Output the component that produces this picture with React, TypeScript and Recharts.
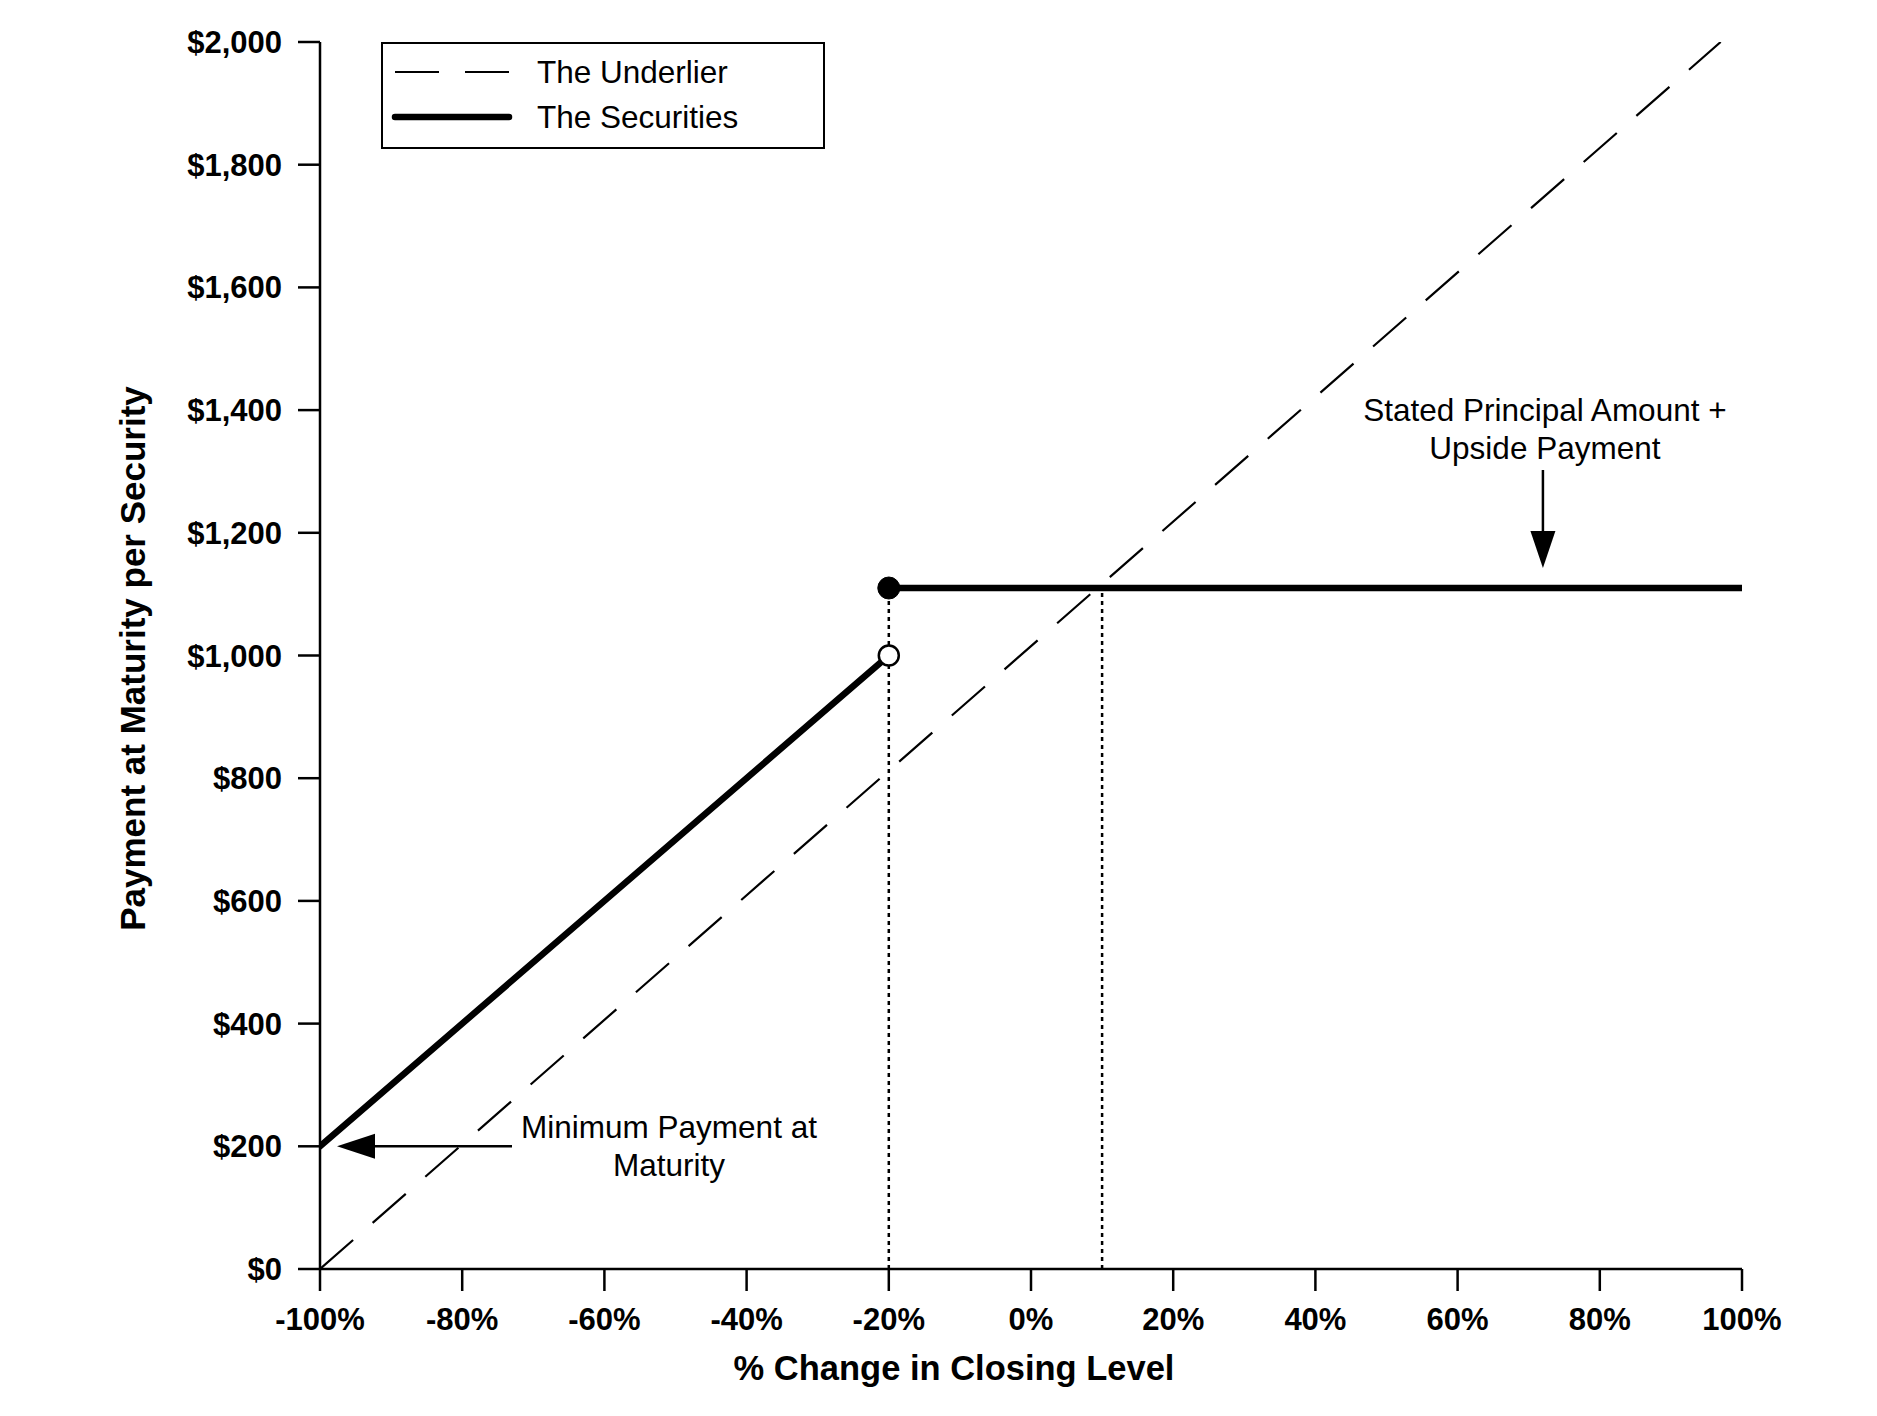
import {
  ComposedChart,
  Line,
  Scatter,
  XAxis,
  YAxis,
  Legend,
  ReferenceLine,
  ReferenceDot,
} from "recharts"

const FONT = "'Liberation Sans', Arial, Helvetica, sans-serif"

// axis ticks
const X_TICKS = [-100, -80, -60, -40, -20, 0, 20, 40, 60, 80, 100]
const Y_TICKS = [0, 200, 400, 600, 800, 1000, 1200, 1400, 1600, 1800, 2000]

// payoff values
const STEP_X = -20
const BREAKEVEN_X = 10
const PRINCIPAL = 1000
const UPSIDE_PAYMENT = 1110
const MIN_PAYMENT = 200

const UNDERLIER = [
  { x: -100, y: 0 },
  { x: 97, y: 2000 },
]
const SECURITIES_LOW = [
  { x: -100, y: MIN_PAYMENT },
  { x: STEP_X, y: PRINCIPAL },
]
const SECURITIES_HIGH = [
  { x: STEP_X, y: UPSIDE_PAYMENT },
  { x: 100, y: UPSIDE_PAYMENT },
]

const LEGEND_ORDER = ["The Underlier", "The Securities"]

// annotation anchors
const UPSIDE_NOTE = [{ x: 72, y: UPSIDE_PAYMENT }]
const UPSIDE_LINES = ["Stated Principal Amount +", "Upside Payment"]
const MIN_NOTE = [{ x: -100, y: MIN_PAYMENT }]
const MIN_LINES = ["Minimum Payment at", "Maturity"]

const fmtMoney = (v: number) =>
  "$" + String(v).replace(/\B(?=(\d{3})+(?!\d))/g, ",")

const noteText = {
  fontFamily: FONT,
  fontSize: 31.5,
  fill: "#000",
  textAnchor: "middle" as const,
}

function UpsideArrow(props: any) {
  const { cx, cy } = props
  const tip = cy - 20
  return (
    <g>
      <line x1={cx} y1={cy - 118} x2={cx} y2={tip - 30} stroke="#000" strokeWidth={2.5} />
      <polygon points={`${cx - 12.5},${tip - 37} ${cx + 12.5},${tip - 37} ${cx},${tip}`} fill="#000" />
      <text x={cx + 2} y={cy - 167} {...noteText}>{UPSIDE_LINES[0]}</text>
      <text x={cx + 2} y={cy - 129} {...noteText}>{UPSIDE_LINES[1]}</text>
    </g>
  )
}

function MinArrow(props: any) {
  const { cx, cy } = props
  const tip = cx + 17
  return (
    <g>
      <line x1={tip + 30} y1={cy} x2={cx + 192} y2={cy} stroke="#000" strokeWidth={2.5} />
      <polygon points={`${tip},${cy} ${tip + 38},${cy - 12.5} ${tip + 38},${cy + 12.5}`} fill="#000" />
      <text x={cx + 349} y={cy - 8} {...noteText}>{MIN_LINES[0]}</text>
      <text x={cx + 349} y={cy + 30} {...noteText}>{MIN_LINES[1]}</text>
    </g>
  )
}

function LegendBox({ payload }: any) {
  const items = (payload || [])
    .filter((p: any) => p.type !== "none")
    .sort((a: any, b: any) => LEGEND_ORDER.indexOf(a.value) - LEGEND_ORDER.indexOf(b.value))
  return (
    <svg width={444} height={107} style={{ display: "block" }}>
      <rect x={1} y={1} width={442} height={105} fill="#fff" stroke="#000" strokeWidth={2} />
      {items.map((item: any, i: number) => {
        const y = 30 + i * 45
        const p = item.payload || {}
        return (
          <g key={item.value}>
            <line
              x1={14}
              y1={y}
              x2={128}
              y2={y}
              stroke="#000"
              strokeWidth={p.strokeWidth || 2}
              strokeDasharray={p.strokeDasharray}
              strokeLinecap={p.strokeDasharray ? "butt" : "round"}
            />
            <text x={156} y={y + 11} fontFamily={FONT} fontSize={31.5} fill="#000">
              {item.value}
            </text>
          </g>
        )
      })}
    </svg>
  )
}

export default function App() {
  const tickStyle = { fontSize: 31, fontWeight: 700, fill: "#000", fontFamily: FONT }
  const axisLine = { stroke: "#000", strokeWidth: 2.5 }

  return (
    <ComposedChart
      width={1869}
      height={1400}
      margin={{ top: 34, right: 135, bottom: 79, left: 112 }}
      style={{ fontFamily: FONT }}
    >
      <XAxis
        type="number"
        dataKey="x"
        domain={[-100, 100]}
        ticks={X_TICKS}
        tickFormatter={(v) => `${v}%`}
        tick={tickStyle}
        tickSize={22}
        tickMargin={17}
        axisLine={axisLine}
        tickLine={axisLine}
        height={60}
        allowDataOverflow
        label={{
          content: ({ viewBox }: any) => (
            <text
              x={viewBox.x + 634}
              y={viewBox.y + 111}
              textAnchor="middle"
              fontFamily={FONT}
              fontSize={34.5}
              fontWeight={700}
              fill="#000"
            >
              % Change in Closing Level
            </text>
          ),
        }}
      />
      <YAxis
        type="number"
        dataKey="y"
        domain={[0, 2000]}
        ticks={Y_TICKS}
        tickFormatter={fmtMoney}
        tick={tickStyle}
        tickSize={22}
        tickMargin={16}
        axisLine={axisLine}
        tickLine={axisLine}
        width={200}
        allowDataOverflow
        label={{
          content: ({ viewBox }: any) => {
            const x = viewBox.x + 12
            const y = viewBox.y + viewBox.height / 2 + 3
            return (
              <text
                x={x}
                y={y}
                transform={`rotate(-90 ${x} ${y})`}
                textAnchor="middle"
                dominantBaseline="central"
                fontFamily={FONT}
                fontSize={35}
                fontWeight={700}
                fill="#000"
              >
                Payment at Maturity per Security
              </text>
            )
          },
        }}
      />
      <Legend
        layout="horizontal"
        verticalAlign="middle"
        align="center"
        wrapperStyle={{ left: 373, top: 34, width: 444, height: 107 }}
        content={<LegendBox />}
      />
      <ReferenceLine
        segment={[
          { x: STEP_X, y: 0 },
          { x: STEP_X, y: UPSIDE_PAYMENT },
        ]}
        stroke="#000"
        strokeWidth={2.5}
        strokeDasharray="4 4"
      />
      <ReferenceLine
        segment={[
          { x: BREAKEVEN_X, y: 0 },
          { x: BREAKEVEN_X, y: UPSIDE_PAYMENT },
        ]}
        stroke="#000"
        strokeWidth={2.5}
        strokeDasharray="4 4"
      />
      <Line
        name="The Underlier"
        data={UNDERLIER}
        dataKey="y"
        type="linear"
        stroke="#000"
        strokeWidth={2.2}
        strokeDasharray="44 26"
        dot={false}
        activeDot={false}
        isAnimationActive={false}
      />
      <Line
        name="The Securities"
        data={SECURITIES_LOW}
        dataKey="y"
        type="linear"
        stroke="#000"
        strokeWidth={6.5}
        strokeLinecap="round"
        dot={false}
        activeDot={false}
        isAnimationActive={false}
      />
      <Line
        name="The Securities (upside)"
        data={SECURITIES_HIGH}
        dataKey="y"
        type="linear"
        stroke="#000"
        strokeWidth={6.5}
        strokeLinecap="round"
        dot={false}
        activeDot={false}
        legendType="none"
        isAnimationActive={false}
      />
      <ReferenceDot x={STEP_X} y={UPSIDE_PAYMENT} r={11} fill="#000" stroke="#000" />
      <ReferenceDot x={STEP_X} y={PRINCIPAL} r={10} fill="#fff" stroke="#000" strokeWidth={2.5} />
      <Scatter
        data={UPSIDE_NOTE}
        shape={<UpsideArrow />}
        legendType="none"
        isAnimationActive={false}
      />
      <Scatter
        data={MIN_NOTE}
        shape={<MinArrow />}
        legendType="none"
        isAnimationActive={false}
      />
    </ComposedChart>
  )
}
